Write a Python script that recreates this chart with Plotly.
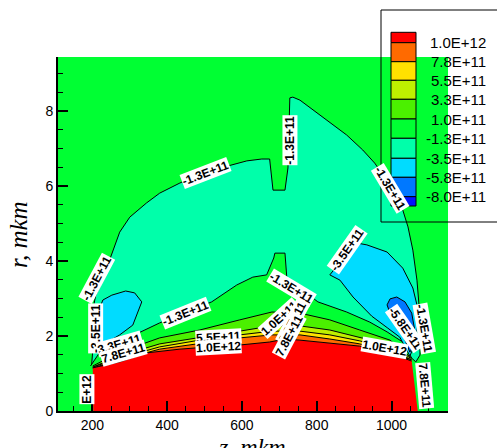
import plotly.graph_objects as go

# ---------------- data ----------------
Z_RANGE = [108, 1151]
R_RANGE = [0, 9.44]

LEVEL_LABELS = ["1.0E+12", "7.8E+11", "5.5E+11", "3.3E+11", "1.0E+11",
                "-1.3E+11", "-3.5E+11", "-5.8E+11", "-8.0E+11"]
BAND_COLORS = ["#FF0000", "#FF6A00", "#FFE100", "#BEF000", "#4BF000",
               "#00FF33", "#00FFAA", "#00DCFF", "#0078FF", "#0014FF"]

# outer -1.3E+11 contour (aquamarine region)
AQ_Z = [198, 203, 201, 209, 220, 236, 252, 273, 300, 345, 380, 434, 501, 575, 613, 653, 674, 683, 715, 723,
        728, 736, 755, 790, 827, 880, 923, 955, 996, 1030, 1044, 1057, 1068, 1073, 1076, 1076, 1065]
AQ_R = [1.23, 1.89, 2.69, 3.09, 3.31, 3.76, 4.16, 4.77, 5.17, 5.55, 5.81, 6.08, 6.37, 6.56, 6.67, 6.72, 6.72, 5.89, 5.89, 6.48,
        8.35, 8.37, 8.29, 8.03, 7.76, 7.36, 6.96, 6.61, 6.03, 5.36, 4.91, 4.29, 3.49, 2.88, 2.16, 1.49, 1.31]

# inner -1.3E+11 contour (green dome above the hot core)
DM_Z = [195, 220, 260, 300, 380, 519, 586, 629, 666, 685, 688, 715, 720, 803, 880, 942, 988, 1030, 1054, 1065]
DM_R = [1.20, 1.57, 1.81, 1.97, 2.35, 2.91, 3.36, 3.57, 3.63, 4.08, 4.21, 4.21, 3.55, 2.91, 2.64, 2.37, 2.11, 1.84, 1.41, 1.31]

# -3.5E+11 closed contours
LC_Z = [214, 214, 228, 252, 289, 313, 332, 321, 308, 273, 241, 228]
LC_R = [1.76, 2.61, 2.96, 3.09, 3.20, 3.15, 2.91, 2.64, 2.29, 2.03, 1.84, 1.73]
RC_Z = [835, 862, 907, 934, 988, 1030, 1057, 1068, 1070, 1062, 1049, 1022, 990, 947, 897, 862]
RC_R = [3.63, 3.97, 4.48, 4.43, 4.24, 3.81, 3.28, 2.83, 2.29, 1.76, 1.47, 1.97, 2.21, 2.53, 3.04, 3.49]

# -5.8E+11 closed contour
BL_Z = [988, 996, 1014, 1036, 1054, 1062, 1057, 1049, 1022, 996]
BL_R = [2.83, 2.99, 3.04, 2.91, 2.61, 2.16, 1.71, 1.57, 2.24, 2.61]

# positive level contours (upper edge of each band)
BAND_Z = [201, 273, 380, 487, 594, 680, 755, 835, 915, 996, 1054]
GR_R = [1.20, 1.57, 1.95, 2.16, 2.43, 2.64, 2.61, 2.43, 2.16, 1.89, 1.41]   # 1.0E+11
YG_R = [1.17, 1.47, 1.79, 1.97, 2.13, 2.27, 2.27, 2.16, 1.97, 1.76, 1.39]   # 3.3E+11
YE_R = [1.17, 1.41, 1.71, 1.89, 2.03, 2.13, 2.13, 2.03, 1.87, 1.65, 1.36]   # 5.5E+11
OR_R = [1.15, 1.36, 1.65, 1.81, 1.95, 2.03, 2.03, 1.92, 1.79, 1.57, 1.36]   # 7.8E+11
RD_Z = [201, 273, 345, 434, 514, 594, 674, 715, 755, 835, 915, 996, 1054]
RD_R = [1.15, 1.31, 1.55, 1.65, 1.71, 1.76, 1.84, 1.92, 1.89, 1.81, 1.73, 1.55, 1.33]  # 1.0E+12

# closing points (below the axis, hidden by the clip)
CLOSE_Z = [1020, 240]
RED_CLOSE_Z = [1076, 203]
CLOSE_R = [-0.5, -0.5]

# contour labels
LABEL_TEXT = ["-1.3E+11", "-1.3E+11", "-1.3E+11", "-1.3E+11", "-3.5E+11", "3.3E+11", "7.8E+11",
              "-1.3E+11", "5.5E+11", "1.0E+12", "-1.3E+11", "1.0E+11", "3.3E+11", "7.8E+11",
              "-3.5E+11", "1.0E+12", "-5.8E+11", "-1.3E+11", "7.8E+11", "E+12"]
LABEL_Z = [503, 728, 996, 212, 209, 273, 284, 450, 538, 538, 733, 701, 736, 726, 881, 982, 1036, 1087, 1089, 185]
LABEL_R = [6.35, 7.23, 5.95, 3.55, 2.21, 1.79, 1.55, 2.61, 1.97, 1.71, 3.28, 2.48, 2.37, 2.0, 4.29, 1.68, 2.21, 2.21, 0.67, 0.59]
LABEL_ANGLE = [-21, -90, 59, -62, -90, -16, -16, -22, -3, -3, 31, -42, -62, -62, -55, 10, 55, 80, 85, -90]

# ---------------- figure ----------------
W, H = 497, 448
ML, MR, MT, MB = 58, 49, 57, 37
PW, PH = W - ML - MR, H - MT - MB


def px(x):
    return (x - ML) / PW


def py(y):
    return (H - MB - y) / PH


fig = go.Figure()


def region(z, r, color, close_z=None, line=True, closed=False):
    if close_z is not None:
        fz, fr = z + close_z, r + CLOSE_R
    else:
        fz, fr = z, r
    fig.add_trace(go.Scatter(x=fz, y=fr, mode="lines", fill="toself", fillcolor=color,
                             line=dict(width=0), hoverinfo="skip", showlegend=False))
    if line:
        lz, lr = (z + z[:1], r + r[:1]) if closed else (z, r)
        fig.add_trace(go.Scatter(x=lz, y=lr, mode="lines", line=dict(color="black", width=1),
                                 hoverinfo="skip", showlegend=False))


region(AQ_Z, AQ_R, BAND_COLORS[6], CLOSE_Z)
region(DM_Z, DM_R, BAND_COLORS[5], CLOSE_Z)
region(LC_Z, LC_R, BAND_COLORS[7], closed=True)
region(RC_Z, RC_R, BAND_COLORS[7], closed=True)
region(BL_Z, BL_R, BAND_COLORS[8], closed=True)
region(BAND_Z, GR_R, BAND_COLORS[4], CLOSE_Z)
region(BAND_Z, YG_R, BAND_COLORS[3], CLOSE_Z)
region(BAND_Z, YE_R, BAND_COLORS[2], CLOSE_Z)
region(BAND_Z, OR_R, BAND_COLORS[1], CLOSE_Z)
region(RD_Z, RD_R, BAND_COLORS[0], RED_CLOSE_Z)

annotations = []
for t, z, r, a in zip(LABEL_TEXT, LABEL_Z, LABEL_R, LABEL_ANGLE):
    annotations.append(dict(x=z, y=r, xref="x", yref="y", text="<b>" + t + "</b>", showarrow=False,
                            textangle=a, bgcolor="white", borderpad=0,
                            font=dict(family="Liberation Sans, Arial", size=12, color="black")))

# legend (drawn as shapes + text)
shapes = []
shapes.append(dict(type="rect", xref="paper", yref="paper", x0=px(381), x1=px(505), y0=py(222), y1=py(10),
                   line=dict(color="black", width=1), fillcolor="rgba(0,0,0,0)", layer="above"))
row_edges = [32.3, 42.7, 61.7, 80.3, 99.3, 119, 138.3, 158.3, 177.3, 196.7, 206]
for i, c in enumerate(BAND_COLORS):
    shapes.append(dict(type="rect", xref="paper", yref="paper", x0=px(391), x1=px(416),
                       y0=py(row_edges[i + 1]), y1=py(row_edges[i]),
                       line=dict(color="black", width=1), fillcolor=c, layer="above"))
for i, lab in enumerate(LEVEL_LABELS):
    annotations.append(dict(x=px(488), y=py(row_edges[i + 1]), xref="paper", yref="paper", text=lab,
                            showarrow=False, xanchor="right", yanchor="middle",
                            font=dict(family="Liberation Sans, Arial", size=15, color="black")))

# axis titles
annotations.append(dict(x=px(252), y=py(432), xref="paper", yref="paper", text="<i>z, mkm</i>",
                        showarrow=False, xanchor="center", yanchor="top",
                        font=dict(family="Liberation Serif, Times New Roman", size=24, color="black")))
annotations.append(dict(x=px(19), y=py(235), xref="paper", yref="paper", text="<i>r, mkm</i>",
                        showarrow=False, xanchor="center", yanchor="middle", textangle=-90,
                        font=dict(family="Liberation Serif, Times New Roman", size=25, color="black")))

axis_common = dict(showgrid=False, zeroline=False, showline=True, linecolor="black", linewidth=2,
                   ticks="inside", ticklen=10, tickwidth=2, tickcolor="black",
                   tickfont=dict(family="Liberation Sans, Arial", size=14, color="black"))

fig.update_layout(
    width=W, height=H, margin=dict(l=ML, r=MR, t=MT, b=MB, pad=0),
    paper_bgcolor="white", plot_bgcolor=BAND_COLORS[5], showlegend=False,
    xaxis=dict(range=Z_RANGE, dtick=200, tick0=0,
               minor=dict(dtick=50, tick0=0, ticks="inside", ticklen=5, tickwidth=1, tickcolor="black"),
               **axis_common),
    yaxis=dict(range=R_RANGE, dtick=2, tick0=0,
               minor=dict(dtick=0.5, tick0=0, ticks="inside", ticklen=5, tickwidth=1, tickcolor="black"),
               **axis_common),
    shapes=shapes, annotations=annotations,
)

fig.write_html("out.html")
